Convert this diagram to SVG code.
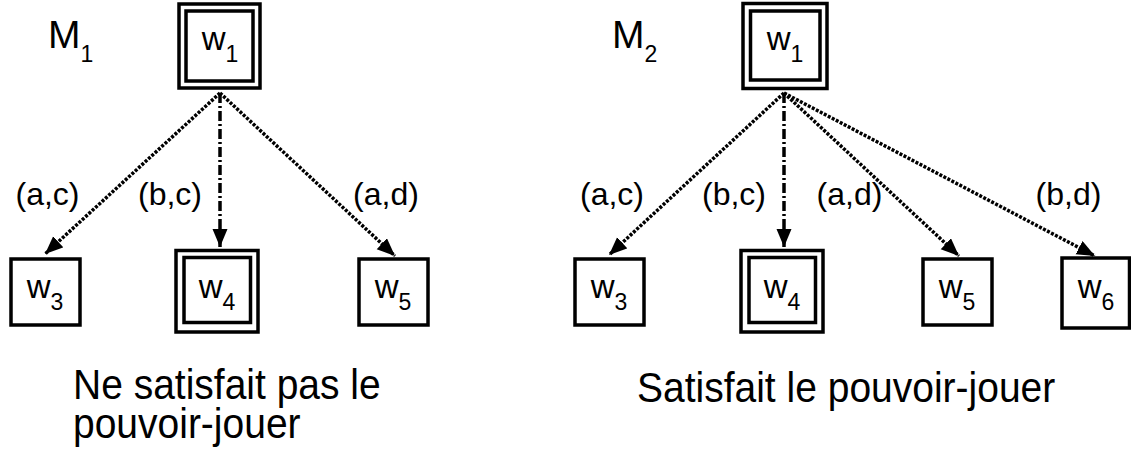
<svg xmlns="http://www.w3.org/2000/svg" width="1131" height="450" viewBox="0 0 1131 450">
<style>
text{font-family:"Liberation Sans",Arial,sans-serif;fill:#000}
.box{fill:#fff;stroke:#000;stroke-width:3.5}
.w{font-size:33px;text-anchor:middle}
.lbl{font-size:32px;text-anchor:middle}
.title{font-size:39px}
.cap{font-size:39px}
.dot{fill:none;stroke:#000;stroke-width:3.5;stroke-dasharray:3,1.5}
.dash{fill:none;stroke:#000;stroke-width:3.5;stroke-dasharray:10,3,2,3}
</style>
<defs>
<marker id="arr" markerUnits="userSpaceOnUse" markerWidth="20" markerHeight="16" refX="18" refY="7.5" orient="auto">
<path d="M0,0 L18,7.5 L0,15 z" fill="#000" stroke="none"/>
</marker>
</defs>

<g id="connectors">
<line class="dot" x1="220" y1="93" x2="45" y2="254" marker-end="url(#arr)"/>
<line class="dash" x1="220" y1="93" x2="220" y2="247" marker-end="url(#arr)"/>
<line class="dot" x1="220" y1="93" x2="395" y2="256" marker-end="url(#arr)"/>
<line class="dot" x1="784" y1="93" x2="609" y2="255" marker-end="url(#arr)"/>
<line class="dash" x1="784" y1="93" x2="784" y2="247" marker-end="url(#arr)"/>
<line class="dot" x1="784" y1="93" x2="959" y2="256" marker-end="url(#arr)"/>
<line class="dot" x1="784" y1="93" x2="1095" y2="256" marker-end="url(#arr)"/>
</g>

<g id="labels">
<text class="lbl" x="47.5" y="205">(a,c)</text>
<text class="lbl" x="170" y="205">(b,c)</text>
<text class="lbl" x="386" y="205">(a,d)</text>
<text class="lbl" x="612" y="205">(a,c)</text>
<text class="lbl" x="734" y="205">(b,c)</text>
<text class="lbl" x="849.5" y="205">(a,d)</text>
<text class="lbl" x="1068.5" y="205">(b,d)</text>
</g>

<g id="M1-title"><text class="title" x="48" y="48">M<tspan font-size="23" dy="14">1</tspan></text></g>
<g id="M2-title"><text class="title" x="612" y="48">M<tspan font-size="23" dy="14">2</tspan></text></g>

<g id="M1-w1">
<rect class="box" x="179" y="4" width="81" height="84"/>
<rect class="box" x="186" y="11" width="67" height="70"/>
<text class="w" x="220" y="50">w<tspan font-size="23" dy="12">1</tspan></text>
</g>
<g id="M1-w3">
<rect class="box" x="11" y="259" width="69" height="66"/>
<text class="w" x="45" y="298">w<tspan font-size="23" dy="12">3</tspan></text>
</g>
<g id="M1-w4">
<rect class="box" x="176" y="250.5" width="82" height="81.5"/>
<rect class="box" x="184" y="257.5" width="66.5" height="65"/>
<text class="w" x="217" y="298">w<tspan font-size="23" dy="12">4</tspan></text>
</g>
<g id="M1-w5">
<rect class="box" x="359" y="259" width="69" height="66"/>
<text class="w" x="393" y="298">w<tspan font-size="23" dy="12">5</tspan></text>
</g>

<g id="M2-w1">
<rect class="box" x="743" y="3.5" width="84" height="85"/>
<rect class="box" x="750.5" y="11" width="69.5" height="69"/>
<text class="w" x="785" y="50">w<tspan font-size="23" dy="12">1</tspan></text>
</g>
<g id="M2-w3">
<rect class="box" x="575" y="259" width="69" height="66"/>
<text class="w" x="609" y="298">w<tspan font-size="23" dy="12">3</tspan></text>
</g>
<g id="M2-w4">
<rect class="box" x="741" y="250.5" width="82" height="81.5"/>
<rect class="box" x="749" y="257.5" width="66.5" height="65"/>
<text class="w" x="782" y="298">w<tspan font-size="23" dy="12">4</tspan></text>
</g>
<g id="M2-w5">
<rect class="box" x="923" y="259" width="69" height="66"/>
<text class="w" x="957" y="298">w<tspan font-size="23" dy="12">5</tspan></text>
</g>
<g id="M2-w6">
<rect class="box" x="1062" y="258" width="67.5" height="70"/>
<text class="w" x="1096" y="298">w<tspan font-size="23" dy="12">6</tspan></text>
</g>

<g id="captions">
<text class="cap" transform="translate(73,399) scale(1,1.1)">Ne satisfait pas le</text>
<text class="cap" transform="translate(73,438) scale(1,1.1)">pouvoir-jouer</text>
<text class="cap" transform="translate(637,402) scale(1,1.1)">Satisfait le pouvoir-jouer</text>
</g>
</svg>
